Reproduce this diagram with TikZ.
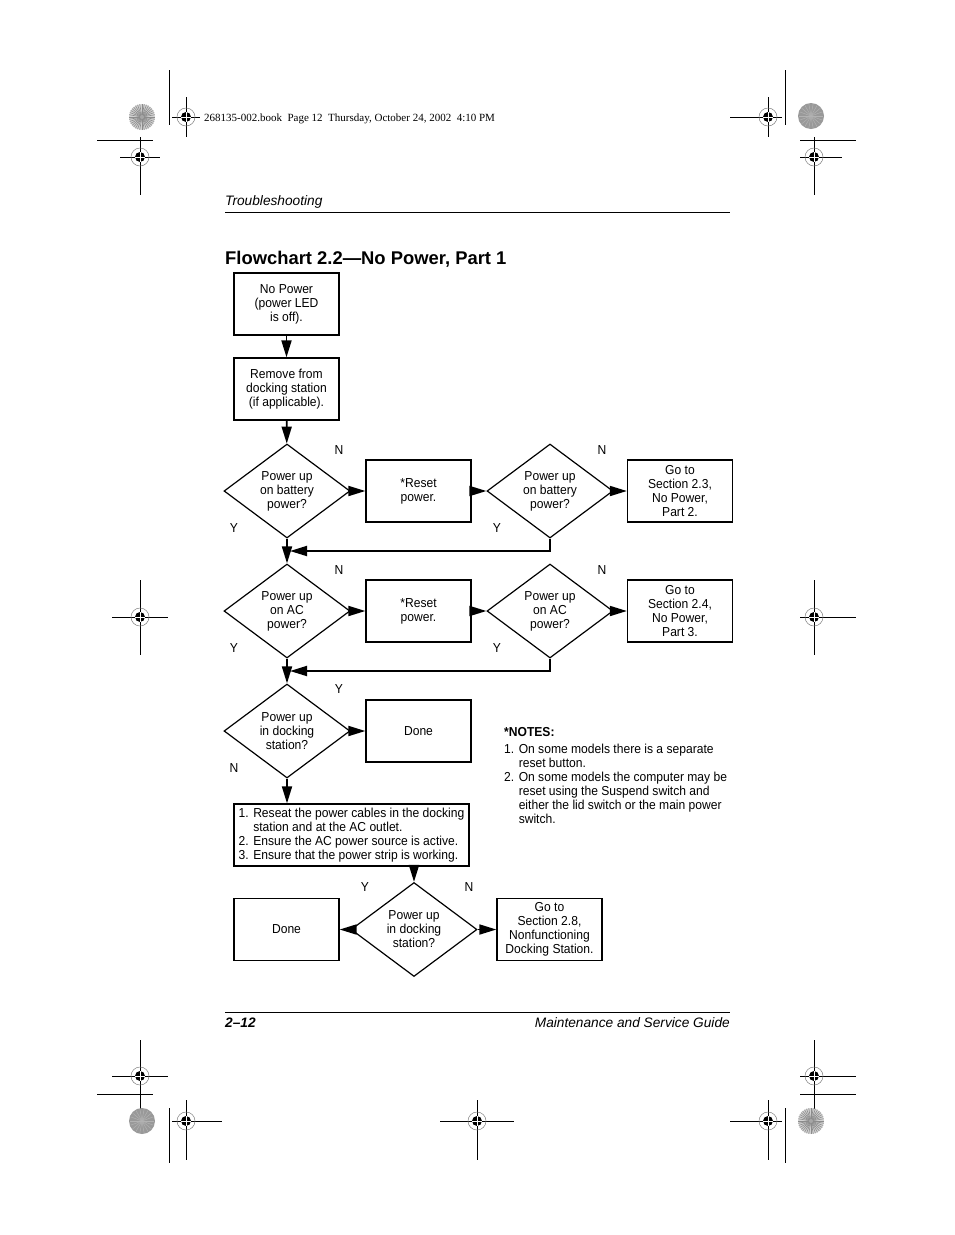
\documentclass[tikz,border=0pt]{standalone}
\usepackage{fontspec}
\setmainfont{Liberation Sans}
\newfontfamily\bookfont{Liberation Serif}
\newfontfamily\narrowfont[FakeStretch=0.93]{Liberation Sans}
\usetikzlibrary{arrows.meta, positioning, calc, shapes.geometric}

\newcommand{\chartfont}{\narrowfont\fontsize{13}{14}\selectfont}

\begin{document}
\begin{tikzpicture}[x=1pt, y=-1pt, >={Triangle[length=17pt, width=10pt]},
  box/.style={draw, line width=1.3pt, minimum width=105pt, minimum height=62pt,
    inner sep=2pt, align=center, font=\chartfont},
  decision/.style={draw, diamond, line width=1.2pt, aspect=1.34, minimum width=126pt,
    minimum height=94pt, inner sep=0pt, align=center, font=\chartfont},
  flow/.style={->, line width=1.8pt},
  yn/.style={font=\chartfont, inner sep=0pt},
  crop/.style={black, line width=0.8pt}]

\useasboundingbox (0,0) rectangle (954,1235);

% crop and registration marks
\draw[crop] (169,70) -- (169,125);
\draw[crop] (97,140) -- (153,140);
\draw[crop] (785,70) -- (785,125);
\draw[crop] (800,140) -- (856,140);
\draw[crop] (169,1108) -- (169,1163);
\draw[crop] (97,1094) -- (153,1094);
\draw[crop] (785,1108) -- (785,1163);
\draw[crop] (800,1094) -- (856,1094);

\foreach \x/\y/\hl/\hr/\vt/\vb in {186/117/14/14/20/20, 140/157/20/20/20/38,
    768/117/38/14/20/20, 814/157/14/28/20/38, 140/617/28/28/37/38,
    814/617/14/42/37/38, 140/1076/28/28/36/34, 186/1121/14/36/21/39,
    477/1121/37/37/21/39, 768/1121/38/14/21/39, 814/1076/14/42/36/34}{
  \begin{scope}[shift={(\x,\y)}]
    \draw[crop] (-\hl,0) -- (\hr,0);
    \draw[crop] (0,-\vt) -- (0,\vb);
    \draw[gray, line width=0.5pt] (0,0) circle (9);
    \fill[black] (0,0) circle (5);
    \draw[white, line width=0.7pt] (-5,0) -- (5,0) (0,-5) -- (0,5);
  \end{scope}
}

\foreach \x/\y in {142/117, 811/1121}{
  \fill[gray!35] (\x,\y) circle (13);
  \foreach \a in {0,10,...,350}
    \draw[gray!90, line width=0.6pt] (\x,\y) -- ++(\a:13);
  \fill[gray!70] (\x,\y) circle (2);
}
\foreach \x/\y in {811/116, 142/1121}{
  \fill[gray!80] (\x,\y) circle (13);
  \foreach \a in {0,20,...,340}
    \draw[gray!60, line width=0.5pt] (\x,\y) -- ++(\a:12);
}

% page header and footer
\node[anchor=base west, inner sep=0, font=\bookfont\fontsize{11}{13}\selectfont] (bookline) at (204,121)
  {268135-002.book\ \ Page 12\ \ Thursday, October 24, 2002\ \ 4:10 PM};
\node[anchor=base west, inner sep=0, font=\itshape\fontsize{13.7}{16}\selectfont] (section) at (225,205) {Troubleshooting};
\draw[line width=0.8pt] (225,212) -- (730,212);
\node[anchor=base west, inner sep=0, font=\bfseries\fontsize{18.4}{22}\selectfont] (title) at (225,264)
  {Flowchart 2.2---No Power, Part 1};

\draw[line width=0.8pt] (225,1012) -- (730,1012);
\node[anchor=base west, inner sep=0, font=\bfseries\itshape\fontsize{13.7}{16}\selectfont] (pagenum) at (225,1027) {2--12};
\node[anchor=base east, inner sep=0, font=\itshape\fontsize{13.7}{16}\selectfont] (guide) at (730,1027) {Maintenance and Service Guide};

% flowchart
\node[box] (nopower) at (286.5,304) {No Power\\(power LED\\is off).};
\node[box] (remove) at (286.5,389) {Remove from\\docking station\\(if applicable).};

\node[decision] (battery1) at (287,491) {Power up\\on battery\\power?};
\node[box] (reset1) at (418.5,491) {*Reset\\power.};
\node[decision] (battery2) at (550,491) {Power up\\on battery\\power?};
\node[box] (part2) at (680,491) {Go to\\Section 2.3,\\No Power,\\Part 2.};

\node[decision] (ac1) at (287,611) {Power up\\on AC\\power?};
\node[box] (reset2) at (418.5,611) {*Reset\\power.};
\node[decision] (ac2) at (550,611) {Power up\\on AC\\power?};
\node[box] (part3) at (680,611) {Go to\\Section 2.4,\\No Power,\\Part 3.};

\node[decision] (dock1) at (287,731) {Power up\\in docking\\station?};
\node[box] (done1) at (418.5,731) {Done};

\node[box, minimum width=235pt, align=left] (reseat) at (351.5,835)
  {1. Reseat the power cables in the docking\\\phantom{1. }station and at the AC outlet.\\
   2. Ensure the AC power source is active.\\3. Ensure that the power strip is working.};

\node[decision] (dock2) at (414,929.5) {Power up\\in docking\\station?};
\node[box] (done2) at (286.5,929.5) {Done};
\node[box] (nonfunc) at (549.5,929.5) {Go to\\Section 2.8,\\Nonfunctioning\\Docking Station.};

\node[anchor=north west, align=left, inner sep=0, font=\chartfont] (notes) at (504,727)
  {\textbf{*NOTES:}\\[3pt]
   1. On some models there is a separate\\\phantom{1. }reset button.\\
   2. On some models the computer may be\\\phantom{2. }reset using the Suspend switch and\\
   \phantom{2. }either the lid switch or the main power\\\phantom{2. }switch.};

\coordinate (join1) at ($(battery1.south)!0.5!(ac1.north)$);
\coordinate (join2) at ($(ac1.south)!0.5!(dock1.north)$);

\draw[flow] (nopower) -- (remove);
\draw[flow] (remove) -- (battery1);
\draw[flow] (battery1) -- (reset1);
\draw[flow] (reset1) -- (battery2);
\draw[flow] (battery2) -- (part2);
\draw[flow] (battery1) -- (ac1);
\draw[flow, shorten >=3pt] (battery2.south) |- (join1);

\draw[flow] (ac1) -- (reset2);
\draw[flow] (reset2) -- (ac2);
\draw[flow] (ac2) -- (part3);
\draw[flow] (ac1) -- (dock1);
\draw[flow, shorten >=3pt] (ac2.south) |- (join2);

\draw[flow] (dock1) -- (done1);
\draw[flow] (dock1.south) -- (dock1.south |- reseat.north);
\draw[flow] (reseat.south -| dock2.north) -- (dock2.north);
\draw[flow] (dock2) -- (done2);
\draw[flow] (dock2) -- (nonfunc);

\node[yn] (n1) at (339,450) {N};
\node[yn] (y1) at (234,528) {Y};
\node[yn] (n2) at (602,450) {N};
\node[yn] (y2) at (497,528) {Y};
\node[yn] (n3) at (339,570) {N};
\node[yn] (y3) at (234,648) {Y};
\node[yn] (n4) at (602,570) {N};
\node[yn] (y4) at (497,648) {Y};
\node[yn] (y5) at (339,689) {Y};
\node[yn] (n5) at (234,768) {N};
\node[yn] (y6) at (365,887) {Y};
\node[yn] (n6) at (469,887) {N};

\end{tikzpicture}
\end{document}
